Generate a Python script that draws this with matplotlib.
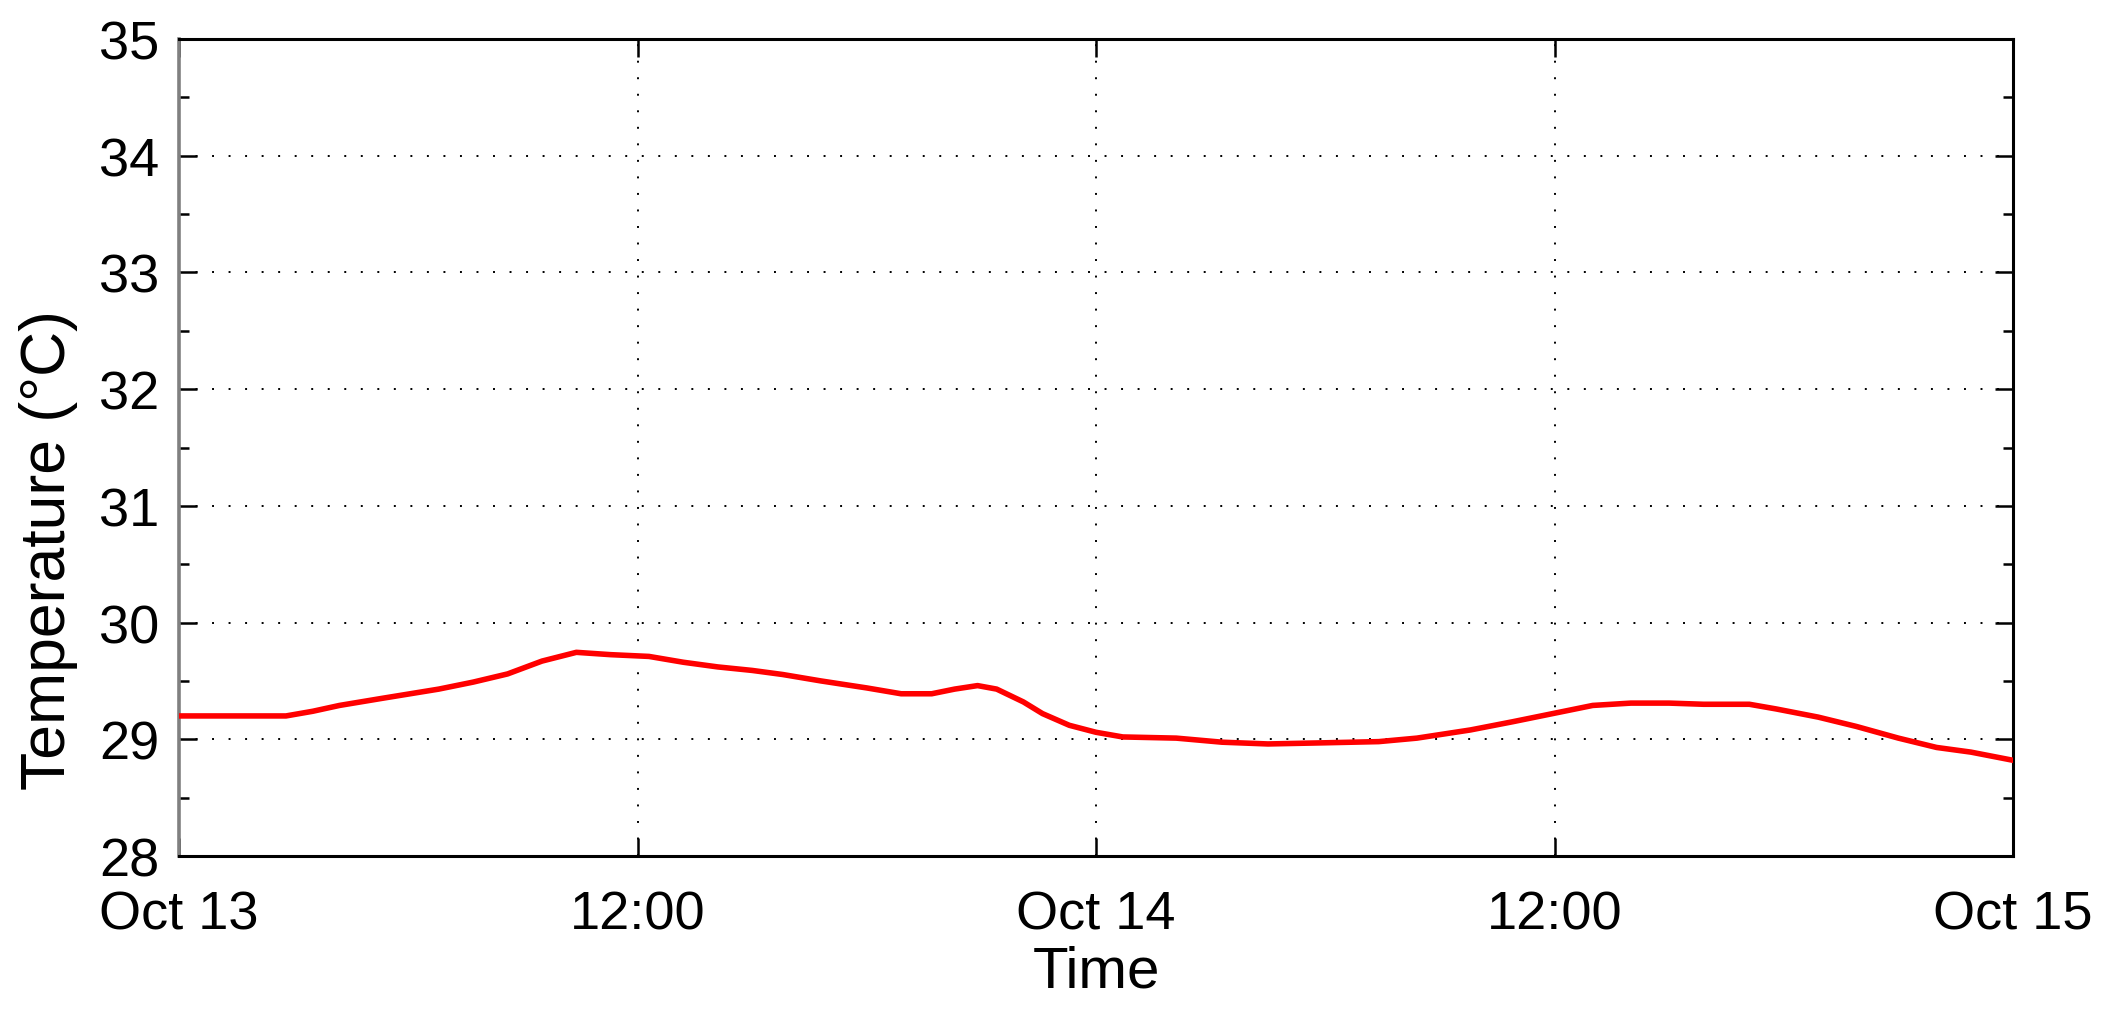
import matplotlib
matplotlib.use("Agg")
import matplotlib.pyplot as plt
from matplotlib.ticker import MultipleLocator
import datetime as dt

plt.rcParams['font.family'] = ['Liberation Sans', 'DejaVu Sans']

# Data: hours since Oct 13 00:00, temperature in °C
hours = [0, 2.8, 3.5, 4.2, 5.3, 6.8, 7.7, 8.6, 9.5, 10.4, 11.3, 12.3, 13.2,
         14.1, 15.0, 15.8, 16.8, 18.0, 18.9, 19.7, 20.3, 20.9, 21.4, 22.1,
         22.6, 23.3, 24.0, 24.7, 26.1, 27.3, 28.5, 30.0, 31.4, 32.4, 33.8,
         34.9, 36.1, 37.0, 38.0, 39.0, 39.9, 41.1, 41.8, 42.9, 43.9, 45.0,
         46.0, 46.9, 48.0]
temps = [29.20, 29.20, 29.24, 29.29, 29.35, 29.43, 29.49, 29.56, 29.67, 29.745,
         29.725, 29.71, 29.66, 29.62, 29.59, 29.555, 29.50, 29.44, 29.39, 29.39,
         29.43, 29.46, 29.43, 29.32, 29.22, 29.12, 29.06, 29.02, 29.01, 28.975,
         28.96, 28.97, 28.98, 29.01, 29.08, 29.15, 29.23, 29.29, 29.31, 29.31,
         29.30, 29.30, 29.26, 29.19, 29.11, 29.01, 28.93, 28.89, 28.82]
start = dt.datetime(2014, 10, 13)
tick_hours = [0, 12, 24, 36, 48]
tick_labels = ["Oct 13", "12:00", "Oct 14", "12:00", "Oct 15"]
y_ticks = [28, 29, 30, 31, 32, 33, 34, 35]

times = [start + dt.timedelta(hours=h) for h in hours]
tick_times = [start + dt.timedelta(hours=h) for h in tick_hours]

fig = plt.figure(figsize=(21.09, 10.12), dpi=100)
ax = fig.add_axes([179/2109, 1 - 857/1012, (2013 - 179)/2109, (857 - 40)/1012])

ax.plot(times, temps, color='#ff0000', lw=4.0, zorder=3)

ax.set_xlim(tick_times[0], tick_times[-1])
ax.set_ylim(y_ticks[0], y_ticks[-1])
ax.set_xticks(tick_times)
ax.set_xticklabels(tick_labels)
ax.set_yticks(y_ticks)
ax.yaxis.set_minor_locator(MultipleLocator(0.5))

ax.grid(True, which='major', color='black', linestyle=(0, (1, 7.5)), lw=1.4)

ax.tick_params(axis='both', which='major', direction='in', length=13, width=1.8,
               top=True, right=True, labelsize=39, colors='black')
ax.tick_params(axis='y', which='minor', direction='in', length=7, width=1.8,
               left=True, right=True)
ax.tick_params(axis='x', which='major', pad=24)
ax.tick_params(axis='y', which='major', pad=14)

for s in ['top', 'right', 'bottom']:
    ax.spines[s].set_linewidth(2.2)
    ax.spines[s].set_color('black')
ax.spines['left'].set_linewidth(2.6)
ax.spines['left'].set_color('#808080')

ax.set_xlabel("Time", fontsize=42)
ax.xaxis.set_label_coords(0.5, -0.108)
ax.set_ylabel("Temperature (°C)", fontsize=45)
ax.yaxis.set_label_coords(-0.055, 0.376)

fig.savefig("out.png", dpi=100)
